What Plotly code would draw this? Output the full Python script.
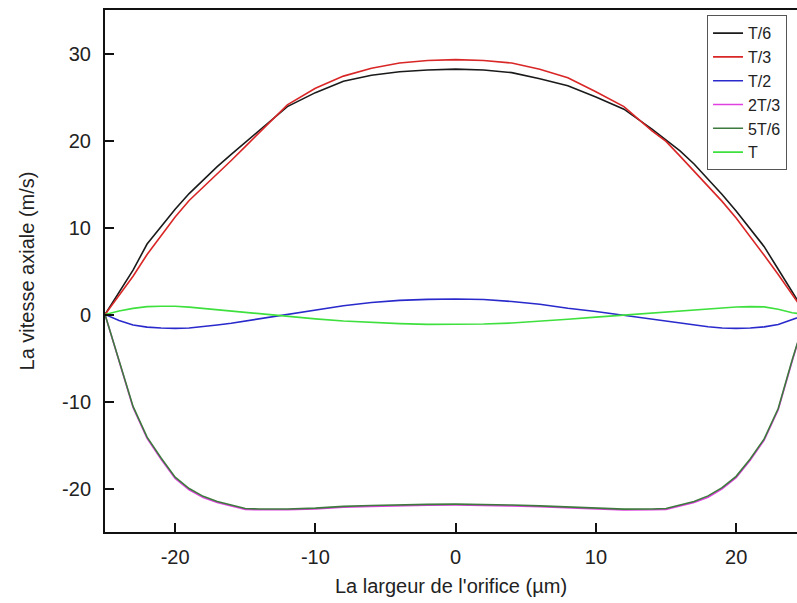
import plotly.graph_objects as go

x = [-25, -24, -23, -22, -21, -20, -19, -18, -17, -16, -15, -14, -12, -10, -8, -6, -4, -2, 0,
     2, 4, 6, 8, 10, 12, 14, 15, 16, 17, 18, 19, 20, 21, 22, 23, 24, 25]

t6 = [0, 2.6, 5.1, 8.1, 10.1, 12.1, 13.9, 15.5, 17.0, 18.4, 19.8, 21.1, 23.9, 25.5, 26.8, 27.5, 27.9, 28.1, 28.2,
      28.1, 27.8, 27.1, 26.3, 25.0, 23.6, 21.3, 20.1, 18.8, 17.3, 15.6, 13.8, 11.9, 9.9, 7.8, 5.2, 2.6, 0]
t3 = [0, 2.2, 4.4, 6.9, 9.1, 11.2, 13.1, 14.6, 16.2, 17.7, 19.3, 20.9, 24.1, 26.0, 27.4, 28.3, 28.9, 29.2, 29.3,
      29.2, 28.9, 28.2, 27.2, 25.6, 23.9, 21.1, 19.9, 18.2, 16.5, 14.8, 13.0, 11.1, 9.0, 6.8, 4.6, 2.3, 0]
t2 = [0, -0.7, -1.2, -1.45, -1.55, -1.6, -1.55, -1.4, -1.2, -1.0, -0.75, -0.5, 0.05, 0.55, 1.0, 1.38, 1.62, 1.74, 1.78,
      1.72, 1.5, 1.18, 0.72, 0.35, -0.1, -0.55, -0.75, -1.0, -1.2, -1.4, -1.55, -1.6, -1.55, -1.42, -1.15, -0.6, 0]
t23 = [0, -5.45, -10.7, -14.25, -16.65, -18.85, -20.15, -21.05, -21.6, -22.0, -22.4, -22.45, -22.45, -22.35, -22.15, -22.05, -21.97, -21.92, -21.9,
       -21.93, -22.0, -22.1, -22.25, -22.4, -22.47, -22.45, -22.4, -22.0, -21.6, -21.0, -20.05, -18.75, -16.75, -14.45, -10.95, -5.35, 0]
t56 = [0, -5.3, -10.56, -14.1, -16.5, -18.7, -20.0, -20.9, -21.5, -21.9, -22.3, -22.35, -22.35, -22.25, -22.05, -21.95, -21.87, -21.82, -21.8,
       -21.83, -21.9, -22.0, -22.15, -22.3, -22.37, -22.35, -22.3, -21.9, -21.5, -20.85, -19.9, -18.6, -16.6, -14.3, -10.8, -5.2, 0]
tT = [0, 0.4, 0.7, 0.9, 0.95, 0.95, 0.85, 0.7, 0.5, 0.35, 0.2, 0.05, -0.25, -0.5, -0.75, -0.92, -1.05, -1.13, -1.15,
      -1.1, -0.98, -0.8, -0.55, -0.3, -0.05, 0.2, 0.3, 0.4, 0.55, 0.68, 0.8, 0.87, 0.9, 0.88, 0.6, 0.2, 0]

names = ["T/6", "T/3", "T/2", "2T/3", "5T/6", "T"]
series = [t6, t3, t2, t23, t56, tT]
colors = ["#1a1a1a", "#d92626", "#2a2acc", "#e040e0", "#3d7a3d", "#3ee03e"]

xtick_vals = [-20, -10, 0, 10, 20]
xtick_text = ["-20", "-10", "0", "10", "20"]
ytick_vals = [-20, -10, 0, 10, 20, 30]
ytick_text = ["-20", "-10", "0", "10", "20", "30"]

fig = go.Figure()
for n, s, c in zip(names, series, colors):
    fig.add_trace(go.Scatter(x=x, y=s, name=n, mode="lines",
                             line=dict(color=c, width=1.6)))

font = "Liberation Sans, Arial, sans-serif"
fig.update_layout(
    width=797, height=603,
    margin=dict(l=105, r=0, t=10, b=71),
    paper_bgcolor="white", plot_bgcolor="white",
    font=dict(family=font, color="#222222"),
    showlegend=True,
    legend=dict(x=0.87, y=0.99, xanchor="left", yanchor="top",
                bordercolor="#555555", borderwidth=1, bgcolor="white",
                font=dict(size=16, family=font, color="#222222"),
                tracegroupgap=0),
    xaxis=dict(range=[-25, 24.34], tickvals=xtick_vals, ticktext=xtick_text,
               ticks="inside", ticklen=9, tickwidth=2, tickcolor="#111111",
               showline=True, linecolor="#111111", linewidth=2, mirror=True,
               showgrid=False, zeroline=False,
               tickfont=dict(size=20, family=font, color="#222222"),
               ticklabelstandoff=6,
               title=dict(text="La largeur de l'orifice (µm)", font=dict(size=20, family=font, color="#222222"),
                          standoff=12)),
    yaxis=dict(range=[-25, 35], tickvals=ytick_vals, ticktext=ytick_text,
               ticks="inside", ticklen=9, tickwidth=2, tickcolor="#111111",
               showline=True, linecolor="#111111", linewidth=2, mirror=False,
               showgrid=False, zeroline=False,
               tickfont=dict(size=20, family=font, color="#222222"),
               ticklabelstandoff=8,
               title=dict(text="La vitesse axiale (m/s)", font=dict(size=20, family=font, color="#222222"),
                          standoff=22)),
)
fig.write_html("out.html")
